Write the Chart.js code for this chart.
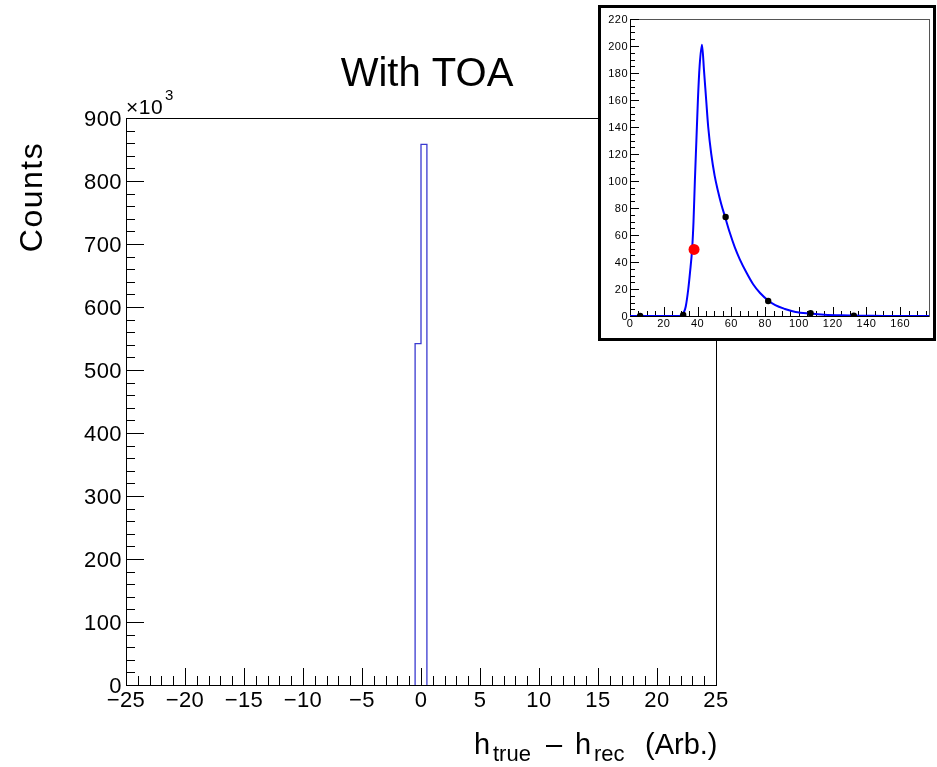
<!DOCTYPE html>
<html><head><meta charset="utf-8">
<script src="https://cdn.jsdelivr.net/npm/chart.js@4/dist/chart.umd.min.js"></script>
<style>
html,body{margin:0;padding:0;background:#fff;}
#wrap{position:relative;width:937px;height:767px;overflow:hidden;}
#main{position:absolute;left:0;top:0;}
#inset{position:absolute;left:598px;top:5px;}
</style></head><body>
<div id="wrap"><canvas id="main" width="937" height="767"></canvas><canvas id="inset" width="338" height="336"></canvas></div>
<script>
// ---- main histogram data (counts in units of 10^3) ----
const binEdges = [-0.5, 0, 0.5];
const binCounts = [542, 858];
const xTickValues = [-25, -20, -15, -10, -5, 0, 5, 10, 15, 20, 25];
const yTickValues = [0, 100, 200, 300, 400, 500, 600, 700, 800, 900];

// ---- inset data ----
const insetCurveX = [0, 28, 30.3, 32, 33, 34.5, 35.5, 36.8, 37.6, 38.4, 39.3, 40.2, 41.2, 42.6, 43.8, 45.1, 46.3, 48.1, 50.1, 52, 54, 56.6, 59, 62, 65, 69, 72.9, 77, 81.8, 86, 91.7, 98, 106.9, 115, 125, 140, 155, 177];
const insetCurveY = [0, 0, 0.5, 3, 7, 20, 32, 50, 70, 100, 130, 160, 185, 201, 182, 160, 140, 120, 104, 93, 83, 72, 62, 51, 42, 32, 23.5, 17, 11.5, 8, 5.2, 3, 1.8, 1, 0.5, 0.2, 0, 0];
const insetPointX = [6, 31.5, 56.6, 81.8, 106.9, 132.5];
const insetPointY = [0, 0.7, 73.3, 11.1, 2, 0.2];
const redPointX = [37.9];
const redPointY = [49.3];
const insetXTicks = [0, 20, 40, 60, 80, 100, 120, 140, 160];
const insetYTicks = [0, 20, 40, 60, 80, 100, 120, 140, 160, 180, 200, 220];

const FONT = "'Liberation Sans', Arial, Helvetica, sans-serif";
const fmt = v => (v < 0 ? '\u2212' + Math.abs(v) : String(v));

// build stepped outline from bins
const histPts = [{x: binEdges[0], y: 0}];
binCounts.forEach((c, i) => histPts.push({x: binEdges[i], y: c}));
histPts.push({x: binEdges[binEdges.length - 1], y: 0});

function drawTicks(ctx, chart, opt) {
  const xs = chart.scales.x, ys = chart.scales.y, a = chart.chartArea;
  ctx.save();
  ctx.strokeStyle = '#000';
  ctx.lineWidth = 1;
  ctx.beginPath();
  for (let v = opt.xmin; v <= opt.xmax + 1e-9; v += opt.xminor) {
    const px = Math.round(xs.getPixelForValue(v)) + 0.5;
    const major = Math.abs(v / opt.xmajor - Math.round(v / opt.xmajor)) < 1e-6;
    const len = major ? opt.xMajLen : opt.xMinLen;
    ctx.moveTo(px, a.bottom);
    ctx.lineTo(px, a.bottom - len);
  }
  for (let v = opt.ymin; v <= opt.ymax + 1e-9; v += opt.yminor) {
    const py = Math.round(ys.getPixelForValue(v)) + 0.5;
    const major = Math.abs(v / opt.ymajor - Math.round(v / opt.ymajor)) < 1e-6;
    const len = major ? opt.yMajLen : opt.yMinLen;
    ctx.moveTo(a.left, py);
    ctx.lineTo(a.left + len, py);
  }
  ctx.stroke();
  ctx.restore();
}

const mainPlugin = {
  id: 'mainDecor',
  beforeDraw(chart) {
    const ctx = chart.ctx;
    ctx.save();
    ctx.fillStyle = '#fff';
    ctx.fillRect(0, 0, chart.width, chart.height);
    ctx.restore();
    ctx.letterSpacing = '0.4px';
  },
  beforeDatasetsDraw(chart) {
    const ctx = chart.ctx, a = chart.chartArea;
    ctx.save();
    ctx.strokeStyle = '#000';
    ctx.lineWidth = 1;
    ctx.strokeRect(Math.round(a.left) + 0.5, Math.round(a.top) + 0.5, Math.round(a.right - a.left), Math.round(a.bottom - a.top));
    ctx.restore();
    drawTicks(ctx, chart, {xmin: -25, xmax: 25, xminor: 1, xmajor: 5, xMajLen: 17, xMinLen: 9,
                           ymin: 0, ymax: 900, yminor: 20, ymajor: 100, yMajLen: 18, yMinLen: 9});
  },
  afterDraw(chart) {
    const ctx = chart.ctx;
    ctx.save();
    ctx.letterSpacing = '0px';
    ctx.fillStyle = '#000';
    ctx.textBaseline = 'alphabetic';
    // title
    ctx.font = '40px ' + FONT;
    ctx.textAlign = 'center';
    ctx.fillText('With TOA', 427, 86);
    // exponent label
    ctx.textAlign = 'left';
    ctx.letterSpacing = '0.5px';
    ctx.font = '21px ' + FONT;
    ctx.fillText('\u00d710', 126, 114);
    ctx.font = '15px ' + FONT;
    ctx.fillText('3', 165, 100);
    // y title
    ctx.save();
    ctx.translate(42, 197);
    ctx.rotate(-Math.PI / 2);
    ctx.textAlign = 'center';
    ctx.letterSpacing = '1.5px';
    ctx.font = '32px ' + FONT;
    ctx.fillText('Counts', 0, 0);
    ctx.restore();
    // x title
    ctx.letterSpacing = '0px';
    ctx.textAlign = 'left';
    ctx.font = '29px ' + FONT;
    ctx.fillText('h', 474, 754);
    ctx.fillText('\u2013', 546, 754);
    ctx.fillText('h', 575, 754);
    ctx.fillText('(Arb.)', 645, 754);
    ctx.font = '22px ' + FONT;
    ctx.fillText('true', 493, 761);
    ctx.fillText('rec', 594, 761);
    ctx.restore();
  }
};

new Chart(document.getElementById('main'), {
  type: 'line',
  data: {
    datasets: [{
      data: histPts,
      stepped: true,
      borderColor: '#3a3ad0',
      borderWidth: 1.3,
      pointRadius: 0,
      fill: false
    }]
  },
  options: {
    responsive: false,
    animation: false,
    devicePixelRatio: 1,
    layout: {padding: {left: 0, right: 221, top: 118, bottom: 0}},
    plugins: {legend: {display: false}, tooltip: {enabled: false}, title: {display: false}},
    scales: {
      x: {
        type: 'linear', min: -25, max: 25,
        afterBuildTicks: s => { s.ticks = xTickValues.map(v => ({value: v})); },
        afterFit: s => { s.height = 82; },
        grid: {display: false, drawTicks: false},
        border: {display: false},
        ticks: {color: '#000', font: {family: FONT, size: 22}, padding: 3, maxRotation: 0, autoSkip: false,
                callback: v => fmt(v)}
      },
      y: {
        type: 'linear', min: 0, max: 900,
        afterBuildTicks: s => { s.ticks = yTickValues.map(v => ({value: v})); },
        afterFit: s => { s.width = 126; },
        grid: {display: false, drawTicks: false},
        border: {display: false},
        ticks: {color: '#000', font: {family: FONT, size: 22}, padding: 4, labelOffset: 2, autoSkip: false,
                callback: v => fmt(v)}
      }
    }
  },
  plugins: [mainPlugin]
});

// ---------------- inset ----------------
const insetPlugin = {
  id: 'insetDecor',
  beforeDraw(chart) {
    const ctx = chart.ctx;
    ctx.save();
    ctx.fillStyle = '#fff';
    ctx.fillRect(0, 0, chart.width, chart.height);
    ctx.restore();
    ctx.letterSpacing = '0.5px';
  },
  beforeDatasetsDraw(chart) {
    const ctx = chart.ctx, a = chart.chartArea;
    ctx.save();
    ctx.strokeStyle = '#555';
    ctx.lineWidth = 1;
    ctx.strokeRect(Math.round(a.left) + 0.5, Math.round(a.top) + 0.5, Math.round(a.right - a.left), Math.round(a.bottom - a.top));
    ctx.strokeStyle = '#000';
    ctx.beginPath();
    ctx.moveTo(Math.round(a.left) + 0.5, a.top);
    ctx.lineTo(Math.round(a.left) + 0.5, a.bottom);
    ctx.moveTo(a.left, Math.round(a.bottom) + 0.5);
    ctx.lineTo(a.right, Math.round(a.bottom) + 0.5);
    ctx.stroke();
    ctx.restore();
    drawTicks(ctx, chart, {xmin: 0, xmax: 175, xminor: 5, xmajor: 20, xMajLen: 9, xMinLen: 5,
                           ymin: 0, ymax: 220, yminor: 5, ymajor: 20, yMajLen: 9, yMinLen: 5});
  },
  afterDraw(chart) {
    const ctx = chart.ctx;
    ctx.save();
    ctx.strokeStyle = '#000';
    ctx.lineWidth = 3;
    ctx.strokeRect(1.5, 1.5, chart.width - 3, chart.height - 3);
    ctx.restore();
  }
};

new Chart(document.getElementById('inset'), {
  type: 'line',
  data: {
    datasets: [
      {data: redPointX.map((x, i) => ({x, y: redPointY[i]})), showLine: false, pointRadius: 5.5,
       pointBackgroundColor: '#ff0000', pointBorderColor: '#ff0000', pointBorderWidth: 0},
      {data: insetPointX.map((x, i) => ({x, y: insetPointY[i]})), showLine: false, pointRadius: 3.2,
       pointBackgroundColor: '#000', pointBorderColor: '#000', pointBorderWidth: 0},
      {data: insetCurveX.map((x, i) => ({x, y: insetCurveY[i]})), borderColor: '#0000ff', borderWidth: 2,
       pointRadius: 0, fill: false, cubicInterpolationMode: 'monotone'}
    ]
  },
  options: {
    responsive: false,
    animation: false,
    devicePixelRatio: 1,
    layout: {padding: {left: 0, right: 7, top: 14, bottom: 0}},
    plugins: {legend: {display: false}, tooltip: {enabled: false}},
    scales: {
      x: {
        type: 'linear', min: 0, max: 177,
        afterBuildTicks: s => { s.ticks = insetXTicks.map(v => ({value: v})); },
        afterFit: s => { s.height = 25; },
        grid: {display: false, drawTicks: false},
        border: {display: false},
        ticks: {color: '#000', font: {family: FONT, size: 11}, padding: 1, maxRotation: 0, autoSkip: false,
                callback: v => fmt(v)}
      },
      y: {
        type: 'linear', min: 0, max: 220,
        afterBuildTicks: s => { s.ticks = insetYTicks.map(v => ({value: v})); },
        afterFit: s => { s.width = 32; },
        grid: {display: false, drawTicks: false},
        border: {display: false},
        ticks: {color: '#000', font: {family: FONT, size: 11}, padding: 2, labelOffset: 1, autoSkip: false,
                callback: v => fmt(v)}
      }
    }
  },
  plugins: [insetPlugin]
});
</script>
</body></html>
